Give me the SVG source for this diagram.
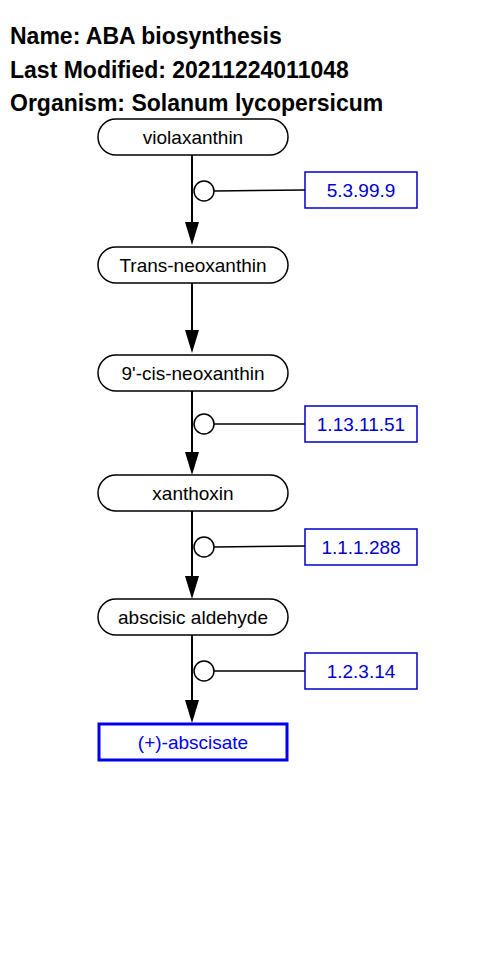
<svg xmlns="http://www.w3.org/2000/svg" width="480" height="959" viewBox="0 0 480 959">
<style>
.title{font-family:"Liberation Sans",Arial,sans-serif;font-size:23px;font-weight:bold;fill:#000}
.pill{fill:#fff;stroke:#000;stroke-width:1.5}
.lbl{font-family:"Liberation Sans",Arial,sans-serif;font-size:19px;fill:#000;text-anchor:middle}
.ec{fill:#fff;stroke:#0000cc;stroke-width:1.5}
.eclbl{font-family:"Liberation Sans",Arial,sans-serif;font-size:19px;fill:#0000cc;text-anchor:middle}
.edge{stroke:#000;stroke-width:2;fill:none}
.link{stroke:#000;stroke-width:1.5;fill:none}
.cat{fill:#fff;stroke:#000;stroke-width:1.5}
.head{fill:#000}
</style>
<rect width="480" height="959" fill="#fff"/>
<text class="title" x="10" y="44">Name: ABA biosynthesis</text>
<text class="title" x="10" y="78">Last Modified: 20211224011048</text>
<text class="title" x="10" y="111">Organism: Solanum lycopersicum</text>

<g id="connectors">
<line class="edge" x1="192" y1="155" x2="192" y2="224"/>
<path class="head" d="M185,222 L199,222 L192,245 Z"/>
<line class="edge" x1="192" y1="283" x2="192" y2="332"/>
<path class="head" d="M185,330 L199,330 L192,353 Z"/>
<line class="edge" x1="192" y1="391" x2="192" y2="454"/>
<path class="head" d="M185,452 L199,452 L192,475 Z"/>
<line class="edge" x1="192" y1="511" x2="192" y2="578"/>
<path class="head" d="M185,576 L199,576 L192,599 Z"/>
<line class="edge" x1="192" y1="635" x2="192" y2="702"/>
<path class="head" d="M185,700 L199,700 L192,723 Z"/>
<line class="link" x1="214" y1="191" x2="305" y2="190"/>
<circle class="cat" cx="204" cy="191" r="10"/>
<line class="link" x1="214" y1="424" x2="305" y2="424"/>
<circle class="cat" cx="204" cy="424" r="10"/>
<line class="link" x1="214" y1="547" x2="305" y2="546"/>
<circle class="cat" cx="204" cy="547" r="10"/>
<line class="link" x1="214" y1="671" x2="305" y2="671"/>
<circle class="cat" cx="204" cy="671" r="10"/>
</g>

<g id="violaxanthin"><rect class="pill" x="98" y="119" width="190" height="36" rx="18"/><text class="lbl" x="193" y="144">violaxanthin</text></g>
<g id="trans-neoxanthin"><rect class="pill" x="98" y="247" width="190" height="36" rx="18"/><text class="lbl" x="193" y="272">Trans-neoxanthin</text></g>
<g id="cis-neoxanthin"><rect class="pill" x="98" y="355" width="190" height="36" rx="18"/><text class="lbl" x="193" y="380">9'-cis-neoxanthin</text></g>
<g id="xanthoxin"><rect class="pill" x="98" y="475" width="190" height="36" rx="18"/><text class="lbl" x="193" y="500">xanthoxin</text></g>
<g id="abscisic-aldehyde"><rect class="pill" x="98" y="599" width="190" height="36" rx="18"/><text class="lbl" x="193" y="624">abscisic aldehyde</text></g>
<g id="abscisate"><rect x="99" y="724" width="188" height="36" fill="#fff" stroke="#0000ee" stroke-width="3"/><text class="eclbl" x="193" y="749" style="fill:#0000ee">(+)-abscisate</text></g>

<g id="ec-5.3.99.9"><rect class="ec" x="305" y="172" width="112" height="36"/><text class="eclbl" x="361" y="197">5.3.99.9</text></g>
<g id="ec-1.13.11.51"><rect class="ec" x="305" y="406" width="112" height="36"/><text class="eclbl" x="361" y="431">1.13.11.51</text></g>
<g id="ec-1.1.1.288"><rect class="ec" x="305" y="529" width="112" height="36"/><text class="eclbl" x="361" y="554">1.1.1.288</text></g>
<g id="ec-1.2.3.14"><rect class="ec" x="305" y="653" width="112" height="36"/><text class="eclbl" x="361" y="678">1.2.3.14</text></g>
</svg>
